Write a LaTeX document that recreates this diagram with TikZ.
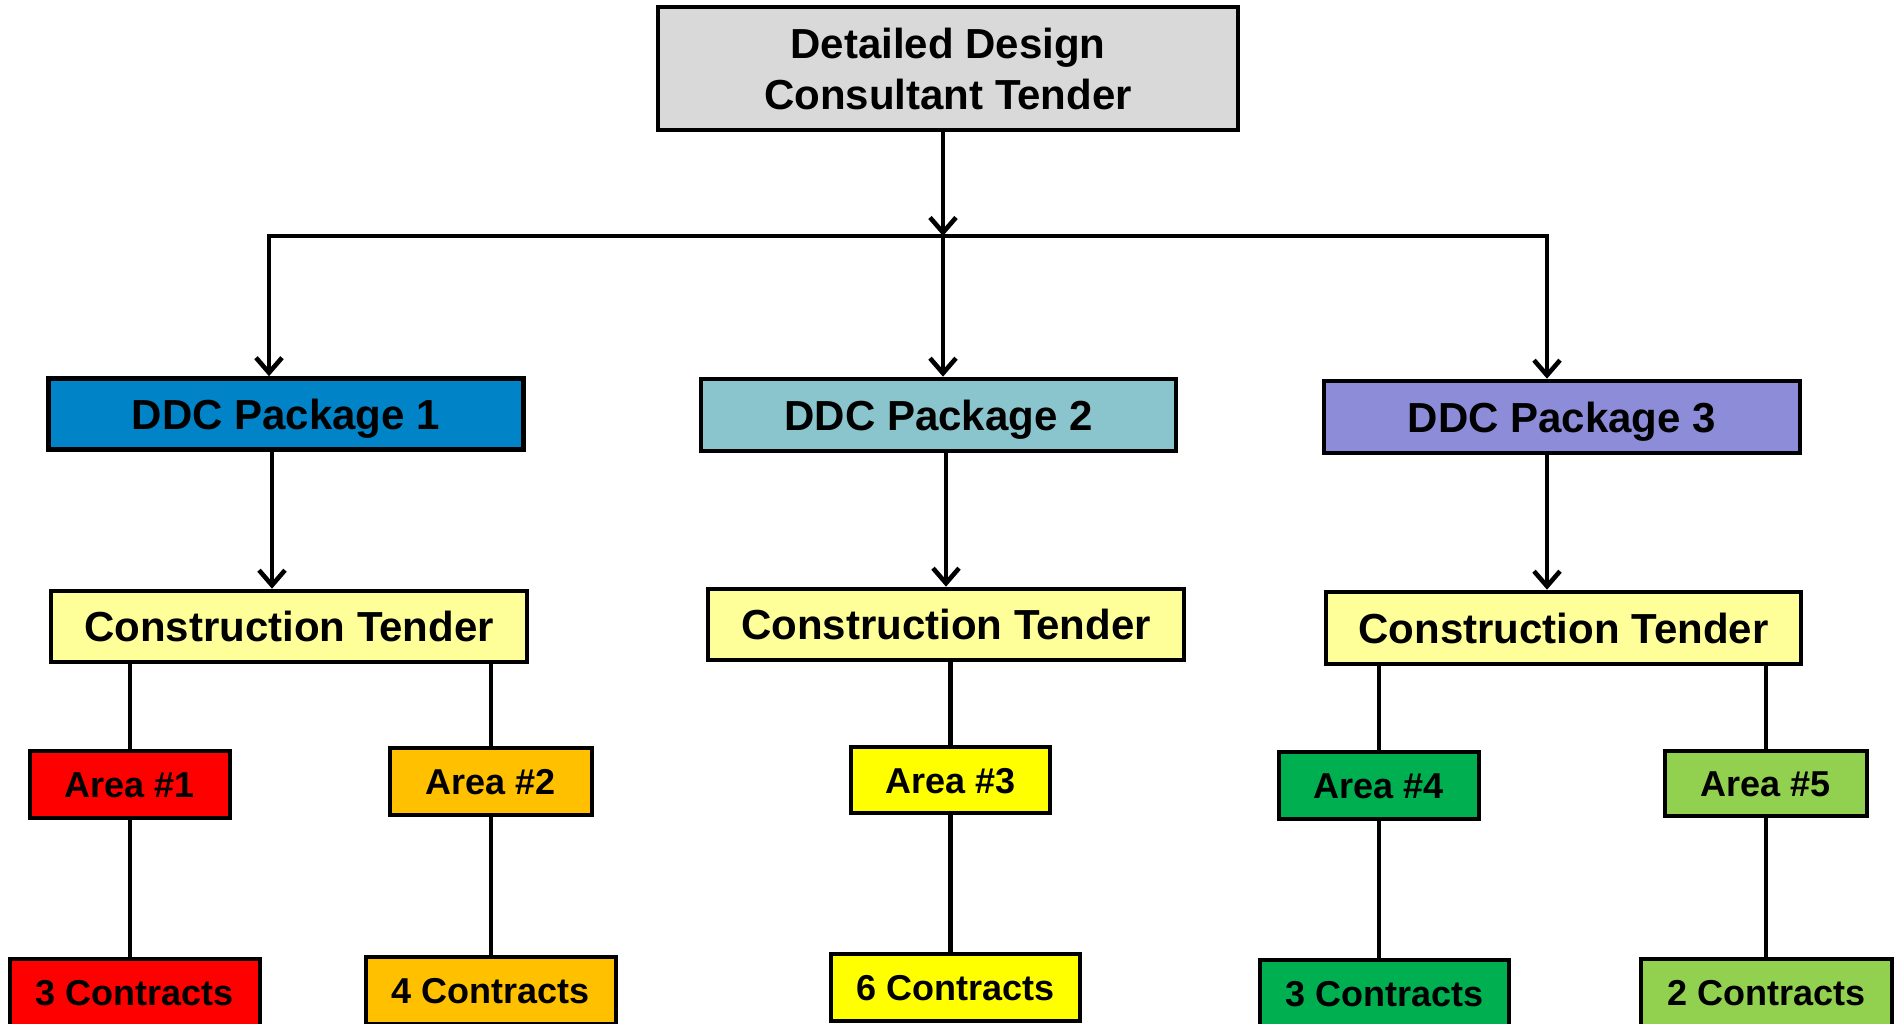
\documentclass[tikz,border=0pt]{standalone}
\usepackage{fontspec}
\setmainfont{Liberation Sans}
\usetikzlibrary{arrows.meta}

\definecolor{topgray}{HTML}{D9D9D9}
\definecolor{pkgblue}{HTML}{0083C7}
\definecolor{pkgteal}{HTML}{8AC4CC}
\definecolor{pkgviolet}{HTML}{8C8CD9}
\definecolor{tenderyellow}{HTML}{FFFF99}
\definecolor{areared}{HTML}{FF0000}
\definecolor{areaamber}{HTML}{FFC000}
\definecolor{areayellow}{HTML}{FFFF00}
\definecolor{areagreen}{HTML}{00B050}
\definecolor{arealime}{HTML}{92D050}

\begin{document}
\begin{tikzpicture}[x=1pt,y=-1pt,
  bigbox/.style={draw=black, line width=4.6pt, inner sep=0pt,
    font=\bfseries\fontsize{42}{51}\selectfont, text height=30pt, text depth=0pt},
  smallbox/.style={draw=black, line width=4.6pt, inner sep=0pt,
    font=\bfseries\fontsize{36}{44}\selectfont, text height=26pt, text depth=0pt},
  link/.style={line width=4.6pt},
  arr/.style={line width=4.6pt, -{Straight Barb[length=15pt,width=26pt]}}]

\useasboundingbox (0,0) rectangle (1899,1024);

% root
\node[draw=black, line width=4.6pt, inner sep=0pt, fill=topgray, align=center,
  font=\bfseries\fontsize{42}{51}\selectfont,
  minimum width=580pt, minimum height=123pt] (top) at (948,68.5)
  {Detailed Design\\Consultant Tender};

% design packages
\node[bigbox, fill=pkgblue,   minimum width=475pt, minimum height=71pt] (ddc1) at (286,414) {DDC Package 1};
\node[bigbox, fill=pkgteal,   minimum width=475pt, minimum height=72pt] (ddc2) at (938.5,415) {DDC Package 2};
\node[bigbox, fill=pkgviolet, minimum width=476pt, minimum height=72pt] (ddc3) at (1562,417) {DDC Package 3};

% construction tenders
\node[bigbox, fill=tenderyellow, minimum width=476pt, minimum height=71pt] (ct1) at (289,626.5) {Construction Tender};
\node[bigbox, fill=tenderyellow, minimum width=476pt, minimum height=71pt] (ct2) at (946,624.5) {Construction Tender};
\node[bigbox, fill=tenderyellow, minimum width=475pt, minimum height=72pt] (ct3) at (1563.5,628) {Construction Tender};

% areas
\node[smallbox, fill=areared,    minimum width=200pt, minimum height=67pt] (area1) at (130,784.5) {Area \#1};
\node[smallbox, fill=areaamber,  minimum width=202pt, minimum height=67pt] (area2) at (491,781.5) {Area \#2};
\node[smallbox, fill=areayellow, minimum width=199pt, minimum height=66pt] (area3) at (950.5,780) {Area \#3};
\node[smallbox, fill=areagreen,  minimum width=200pt, minimum height=67pt] (area4) at (1379,785.5) {Area \#4};
\node[smallbox, fill=arealime,   minimum width=202pt, minimum height=65pt] (area5) at (1766,783.5) {Area \#5};

% contracts
\node[smallbox, fill=areared,    minimum width=250pt, minimum height=67pt] (c1) at (135,992.5) {3 Contracts};
\node[smallbox, fill=areaamber,  minimum width=250pt, minimum height=67pt] (c2) at (491,990.5) {4 Contracts};
\node[smallbox, fill=areayellow, minimum width=249pt, minimum height=67pt] (c3) at (955.5,987.5) {6 Contracts};
\node[smallbox, fill=areagreen,  minimum width=249pt, minimum height=67pt] (c4) at (1384.5,993.5) {3 Contracts};
\node[smallbox, fill=arealime,   minimum width=251pt, minimum height=67pt] (c5) at (1766.5,992.5) {2 Contracts};

% distribution bus
\coordinate (busL) at (269,236);
\coordinate (busM) at (943,236);
\coordinate (busR) at (1547,236);

\draw[arr] (top.south -| busM) -- (busM);
\draw[arr] (busM) -| (ddc1.north -| busL);
\draw[arr] (busM) -| (ddc3.north -| busR);
\draw[arr] (busM) -- (ddc2.north -| busM);

% package to tender
\draw[arr] ([xshift=3pt]ddc1.south -| busL) -- ([xshift=3pt]ct1.north -| busL);
\draw[arr] ([xshift=3pt]ddc2.south -| busM) -- ([xshift=3pt]ct2.north -| busM);
\draw[arr] (ddc3.south -| busR) -- (ct3.north -| busR);

% tender to areas
\draw[link] (ct1.south -| area1.north) -- (area1.north);
\draw[link] (ct1.south -| area2.north) -- (area2.north);
\draw[link] (ct2.south -| area3.north) -- (area3.north);
\draw[link] (ct3.south -| area4.north) -- (area4.north);
\draw[link] (ct3.south -| area5.north) -- (area5.north);

% areas to contracts
\draw[link] (area1.south) -- (area1.south |- c1.north);
\draw[link] (area2.south) -- (area2.south |- c2.north);
\draw[link] (area3.south) -- (area3.south |- c3.north);
\draw[link] (area4.south) -- (area4.south |- c4.north);
\draw[link] (area5.south) -- (area5.south |- c5.north);
\end{tikzpicture}
\end{document}
